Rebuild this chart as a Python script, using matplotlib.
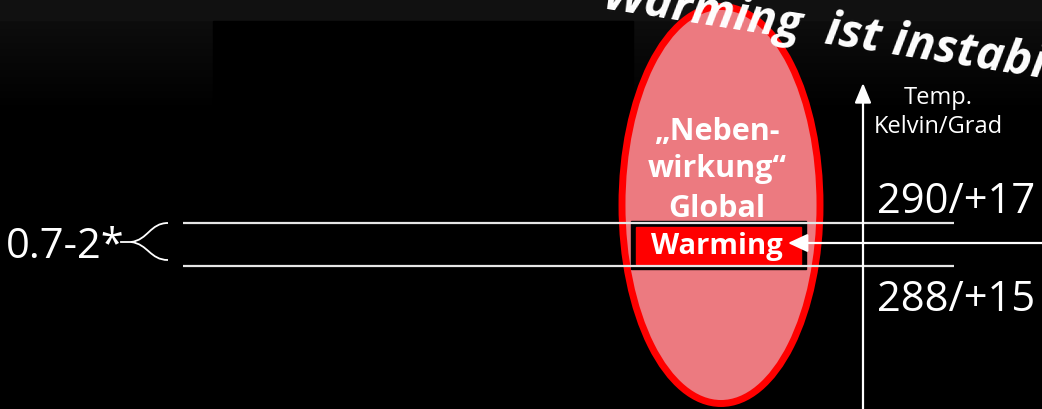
import numpy as np
import matplotlib.pyplot as plt
from matplotlib.patches import Ellipse, Rectangle, PathPatch
from matplotlib.path import Path

# texts on the slide
title_top = "These:"
title_main = "Warming  ist instabil"
bubble_lines = ["\u201eNeben-", "wirkung\u201c", "Global"]
box_label = "Warming"
axis_label = ["Temp.", "Kelvin/Grad"]
temp_labels = ["290/+17", "288/+15"]
range_label = "0.7-2*"

W, H = 1042, 409
fig = plt.figure(figsize=(W / 100, H / 100), dpi=100)
ax = fig.add_axes([0, 0, 1, 1])
ax.set_xlim(0, W)
ax.set_ylim(H, 0)
ax.axis('off')

# background: dark grey band fading to black
rows = np.arange(H)
grad = np.where(rows < 21, 17, np.clip(13 * (1 - (rows - 21) / 90), 0, 13)) / 255
ax.imshow(grad[:, None], cmap='gray', vmin=0, vmax=1, extent=[0, W, H, 0],
          aspect='auto', zorder=0)
ax.add_patch(Rectangle((213, 21), 420, H - 21, color='black', zorder=1))

# title (rotated, cut at the top)
ax.text(972, 1, title_top, rotation=-9, rotation_mode='anchor', ha='right',
        va='baseline', color='white', fontsize=34, fontweight='bold',
        fontstyle='italic', family='Open Sans', zorder=2)
ax.text(602, 8, title_main, rotation=-9, rotation_mode='anchor', ha='left',
        va='baseline', color='white', fontsize=34, fontweight='bold',
        fontstyle='italic', family='Open Sans', zorder=6)

# ellipse
ax.add_patch(Ellipse((721, 205), 198, 397, facecolor='#ec7a80',
                     edgecolor='#ff0000', lw=5, zorder=3))
for txt, yb in zip(bubble_lines, [140, 177, 217]):
    ax.text(717, yb, txt, ha='center', va='baseline', color='white',
            fontsize=22, fontweight='bold', family='Open Sans', zorder=5)

# warming box
ax.add_patch(Rectangle((631, 221), 175, 48, color='black', zorder=4))
ax.add_patch(Rectangle((636, 227), 165, 37, color='#ff0000', zorder=4))
ax.text(717, 254, box_label, ha='center', va='baseline', color='white',
        fontsize=21, fontweight='bold', family='Open Sans', zorder=5)

# horizontal lines
for yl in [223, 266]:
    ax.plot([183, 954], [yl, yl], color='#e6e6e6', lw=1.6, zorder=5,
            solid_capstyle='butt')

# arrows
ax.annotate('', xy=(788, 243), xytext=(W + 5, 243), zorder=6,
            arrowprops=dict(arrowstyle='-|>,head_length=0.6,head_width=0.28',
                            mutation_scale=20, lw=1.6, color='white',
                            shrinkA=0, shrinkB=0))
ax.annotate('', xy=(863, 83), xytext=(863, H + 5), zorder=6,
            arrowprops=dict(arrowstyle='-|>,head_length=0.6,head_width=0.25',
                            mutation_scale=20, lw=1.6, color='white',
                            shrinkA=0, shrinkB=0))

# axis labels
ax.text(938, 104, axis_label[0], ha='center', va='baseline', color='white',
        fontsize=17, family='Open Sans', zorder=5)
ax.text(938, 133, axis_label[1], ha='center', va='baseline', color='white',
        fontsize=17, family='Open Sans', zorder=5)
for txt, yb in zip(temp_labels, [213, 311]):
    ax.text(877, yb, txt, ha='left', va='baseline', color='white',
            fontsize=30, family='Open Sans', zorder=5)

# left label with brace
ax.text(6, 258, range_label, ha='left', va='baseline', color='white',
        fontsize=30, family='Open Sans', zorder=5)
brace = Path([(168, 223), (150, 223), (148, 240), (131, 242),
              (148, 244), (150, 260), (168, 260)],
             [Path.MOVETO, Path.CURVE4, Path.CURVE4, Path.CURVE4,
              Path.CURVE4, Path.CURVE4, Path.CURVE4])
ax.add_patch(PathPatch(brace, fill=False, edgecolor='white', lw=1.3, zorder=5))
ax.plot([121, 131], [242, 242], color='white', lw=1.3, zorder=5)

plt.savefig('out.png', dpi=100, facecolor='black')
plt.close('all')
